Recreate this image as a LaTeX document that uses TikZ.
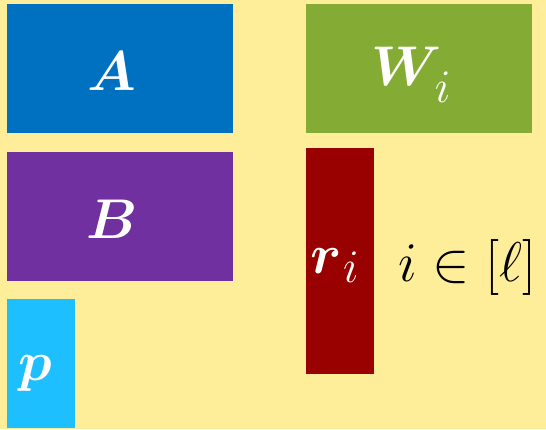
\RequirePackage{fix-cm}
\documentclass[tikz,border=0pt]{standalone}
\usepackage{amsmath,bm}
\definecolor{bg}{HTML}{FFEE99}
\definecolor{cA}{HTML}{0070C0}
\definecolor{cW}{HTML}{84AC34}
\definecolor{cB}{HTML}{7030A0}
\definecolor{cP}{HTML}{1EBFFF}
\definecolor{cR}{HTML}{990000}
\newcommand{\bigsub}[2]{\raisebox{#1}{\fontsize{35}{40}\selectfont$#2$}}
\tikzset{
  blk/.style={fill=#1, draw=none},
  big/.style={inner sep=0pt, font=\fontsize{42}{50}\selectfont},
  lbl/.style={big, text=white}
}
\begin{document}
\begin{tikzpicture}[x=0.75pt,y=-0.75pt]
\fill[bg] (0,0) rectangle (546,429);
\useasboundingbox (0,0) rectangle (546,429);
\path[blk=cA] (7,4) rectangle (233,133);
\path[blk=cW] (306,4) rectangle (532,133);
\path[blk=cB] (7,152) rectangle (233,281);
\path[blk=cP] (7,299) rectangle (75,428);
\path[blk=cR] (306,148) rectangle (374,374);
\node[lbl, anchor=base] (a) at (112,90) {$\bm{A}$};
\node[lbl, anchor=base west] (w) at (371,85) {$\bm{W}$\hspace{-5pt}\bigsub{-13pt}{i}};
\node[lbl, anchor=base] (b) at (112,238) {$\bm{B}$};
\node[lbl, anchor=base west] (p) at (18,380) {$\bm{p}$};
\node[lbl, anchor=base west] (r) at (310,273) {$\bm{r}$\hspace{1pt}\bigsub{-7pt}{i}};
\node[big, anchor=base west] (t) at (398,281) {$i\in[\ell]$};
\end{tikzpicture}
\end{document}
